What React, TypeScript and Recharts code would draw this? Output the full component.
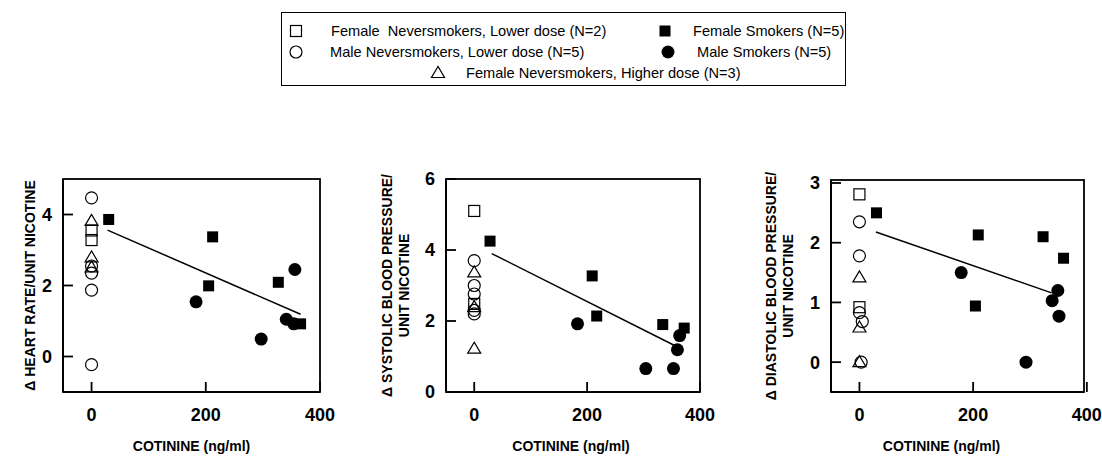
import { Label, ReferenceArea, ReferenceLine, Scatter, ScatterChart, XAxis, YAxis } from "recharts";

type Pt = { x: number; y: number };

const FONT = "'Liberation Sans', Arial, sans-serif";

const xTicks = [0, 200, 400];

// heart rate panel
const hrFemaleNeverLow: Pt[] = [{ x: 0, y: 3.55 }, { x: 0, y: 3.28 }];
const hrMaleNeverLow: Pt[] = [{ x: 0, y: 4.47 }, { x: 0, y: 2.55 }, { x: 0, y: 2.35 }, { x: 0, y: 1.87 }, { x: 0, y: -0.23 }];
const hrFemaleNeverHigh: Pt[] = [{ x: 0, y: 3.82 }, { x: 0, y: 2.79 }, { x: 0, y: 2.51 }];
const hrFemaleSmokers: Pt[] = [{ x: 30, y: 3.86 }, { x: 212, y: 3.37 }, { x: 205, y: 1.99 }, { x: 327, y: 2.09 }, { x: 366, y: 0.92 }];
const hrMaleSmokers: Pt[] = [{ x: 183, y: 1.54 }, { x: 297, y: 0.49 }, { x: 356, y: 2.45 }, { x: 341, y: 1.05 }, { x: 354, y: 0.92 }];
const hrFit: Pt[] = [{ x: 28, y: 3.56 }, { x: 366, y: 1.19 }];

// systolic panel
const sbpFemaleNeverLow: Pt[] = [{ x: 0, y: 5.1 }, { x: 0, y: 2.48 }];
const sbpMaleNeverLow: Pt[] = [{ x: 0, y: 3.7 }, { x: 0, y: 3.0 }, { x: 0, y: 2.76 }, { x: 0, y: 2.3 }, { x: 0, y: 2.2 }];
const sbpFemaleNeverHigh: Pt[] = [{ x: 0, y: 3.37 }, { x: 0, y: 2.39 }, { x: 0, y: 1.22 }];
const sbpFemaleSmokers: Pt[] = [{ x: 28, y: 4.25 }, { x: 209, y: 3.27 }, { x: 217, y: 2.14 }, { x: 334, y: 1.9 }, { x: 372, y: 1.8 }];
const sbpMaleSmokers: Pt[] = [{ x: 183, y: 1.92 }, { x: 304, y: 0.66 }, { x: 353, y: 0.66 }, { x: 360, y: 1.19 }, { x: 364, y: 1.59 }];
const sbpFit: Pt[] = [{ x: 31, y: 3.9 }, { x: 355, y: 1.31 }];

// diastolic panel
const dbpFemaleNeverLow: Pt[] = [{ x: 0, y: 2.81 }, { x: 0, y: 0.92 }];
const dbpMaleNeverLow: Pt[] = [{ x: 0, y: 2.35 }, { x: 0, y: 1.78 }, { x: 0, y: 0.83 }, { x: 5, y: 0.68 }, { x: 3, y: 0.0 }];
const dbpFemaleNeverHigh: Pt[] = [{ x: 0, y: 1.42 }, { x: 0, y: 0.58 }, { x: 0, y: 0.0 }];
const dbpFemaleSmokers: Pt[] = [{ x: 30, y: 2.5 }, { x: 209, y: 2.13 }, { x: 204, y: 0.94 }, { x: 323, y: 2.1 }, { x: 359, y: 1.74 }];
const dbpMaleSmokers: Pt[] = [{ x: 179, y: 1.5 }, { x: 293, y: 0.0 }, { x: 339, y: 1.03 }, { x: 349, y: 1.2 }, { x: 351, y: 0.77 }];
const dbpFit: Pt[] = [{ x: 29, y: 2.18 }, { x: 338, y: 1.16 }];

type Kind = "openSquare" | "openCircle" | "openTriangle" | "filledSquare" | "filledCircle";

const groupKinds: Kind[] = ["openSquare", "openCircle", "openTriangle", "filledSquare", "filledCircle"];

const tickFont = { fontSize: 18, fontWeight: 700, fill: "#000", fontFamily: FONT };

function Mark({ kind, cx, cy }: { kind: Kind; cx: number; cy: number }) {
  const line = { fill: "none", stroke: "#000", strokeWidth: 1.2 };
  switch (kind) {
    case "openSquare":
      return <rect x={cx - 5.5} y={cy - 5.5} width={11} height={11} {...line} />;
    case "openCircle":
      return <circle cx={cx} cy={cy} r={6} {...line} />;
    case "openTriangle":
      return <polygon points={`${cx},${cy - 6.5} ${cx - 6.5},${cy + 4.5} ${cx + 6.5},${cy + 4.5}`} {...line} />;
    case "filledSquare":
      return <rect x={cx - 5.5} y={cy - 5.5} width={11} height={11} fill="#000" />;
    default:
      return <circle cx={cx} cy={cy} r={6.5} fill="#000" />;
  }
}

// tick label plus a short tick pointing into the plot
const X_TICK_GAP = 16;
const Y_TICK_GAP = 11;

function XTick(tp: any) {
  const x = Number(tp.x);
  const y = Number(tp.y);
  const base = y - X_TICK_GAP;
  return (
    <g>
      <rect x={x - 0.9} y={base - 10} width={1.8} height={10} fill="#000" />
      <text x={x} y={y} dy="0.71em" textAnchor="middle" {...tickFont}>
        {tp.payload.value}
      </text>
    </g>
  );
}

function YTick(tp: any) {
  const x = Number(tp.x);
  const y = Number(tp.y);
  const base = x + Y_TICK_GAP;
  return (
    <g>
      <rect x={base} y={y - 0.9} width={10} height={1.8} fill="#000" />
      <text x={x} y={y} dy="0.36em" textAnchor="end" {...tickFont}>
        {tp.payload.value}
      </text>
    </g>
  );
}

function Frame(fp: any) {
  return <rect x={fp.x} y={fp.y} width={fp.width} height={fp.height} fill="none" stroke="#000" strokeWidth={1.8} />;
}

type PanelProps = {
  left: number;
  width: number;
  yAxisWidth: number;
  marginRight: number;
  marginTop: number;
  xMax: number;
  yDomain: [number, number];
  yTicks: number[];
  titleLines: string[];
  titleX: number;
  xTitleDx: number;
  series: Pt[][];
  fit: Pt[];
};

function Panel(p: PanelProps) {
  const [yMin, yMax] = p.yDomain;
  const axisLine = { stroke: "#000", strokeWidth: 1.8 };
  return (
    <div style={{ position: "absolute", left: p.left, top: 150 }}>
      <ScatterChart width={p.width} height={306} margin={{ top: p.marginTop, right: p.marginRight, bottom: 34, left: 0 }}>
        <XAxis
          type="number"
          dataKey="x"
          domain={[-50, p.xMax]}
          ticks={xTicks}
          interval={0}
          height={30}
          tickSize={0}
          tickMargin={X_TICK_GAP}
          tick={<XTick />}
          axisLine={axisLine}
          tickLine={false}
        >
          <Label
            content={(lp: any) => {
              const vb = lp.viewBox;
              return (
                <text
                  x={vb.x + vb.width / 2 + p.xTitleDx}
                  y={vb.y + 54}
                  textAnchor="middle"
                  dominantBaseline="central"
                  fontFamily={FONT}
                  fontWeight={700}
                  fontSize={14}
                >
                  COTININE (ng/ml)
                </text>
              );
            }}
          />
        </XAxis>
        <YAxis
          type="number"
          dataKey="y"
          domain={p.yDomain}
          ticks={p.yTicks}
          interval={0}
          width={p.yAxisWidth}
          tickSize={0}
          tickMargin={Y_TICK_GAP}
          tick={<YTick />}
          axisLine={axisLine}
          tickLine={false}
        >
          <Label
            content={(lp: any) => {
              const vb = lp.viewBox;
              const cy = vb.y + vb.height / 2;
              const cx = p.titleX;
              const lh = 17;
              return (
                <text
                  transform={`rotate(-90 ${cx} ${cy})`}
                  x={cx}
                  y={cy}
                  textAnchor="middle"
                  dominantBaseline="central"
                  fontFamily={FONT}
                  fontWeight={700}
                  fontSize={14}
                >
                  {p.titleLines.map((t, i) => (
                    <tspan key={i} x={cx} dy={i === 0 ? (-(p.titleLines.length - 1) * lh) / 2 : lh}>
                      {t}
                    </tspan>
                  ))}
                </text>
              );
            }}
          />
        </YAxis>
        <ReferenceArea x1={-50} x2={p.xMax} y1={yMin} y2={yMax} ifOverflow="visible" shape={<Frame />} />
        <ReferenceLine segment={[p.fit[0], p.fit[1]]} stroke="#000" strokeWidth={1.5} />
        {p.series.map((data, i) => (
          <Scatter
            key={i}
            data={data}
            isAnimationActive={false}
            shape={(sp: any) => <Mark kind={groupKinds[i]} cx={sp.cx} cy={sp.cy} />}
          />
        ))}
      </ScatterChart>
    </div>
  );
}

function LegendSymbol({ kind, x, y }: { kind: Kind; x: number; y: number }) {
  return (
    <svg width={16} height={16} style={{ position: "absolute", left: x - 8, top: y - 8 }}>
      <Mark kind={kind} cx={8} cy={8} />
    </svg>
  );
}

function LegendText({ text, x, y }: { text: string; x: number; y: number }) {
  return (
    <div
      style={{
        position: "absolute",
        left: x,
        top: y - 9,
        height: 18,
        lineHeight: "18px",
        fontSize: 14.6,
        fontFamily: FONT,
        whiteSpace: "pre",
        color: "#000",
      }}
    >
      {text}
    </div>
  );
}

export default function App() {
  return (
    <div style={{ position: "absolute", left: 0, top: 0, width: 1102, height: 456, background: "#fff", overflow: "hidden" }}>
      <div
        style={{
          position: "absolute",
          left: 281,
          top: 12,
          width: 563,
          height: 72,
          border: "1.3px solid #000",
        }}
      />
      <LegendSymbol kind="openSquare" x={296} y={31} />
      <LegendText text="Female  Neversmokers, Lower dose (N=2)" x={331} y={31} />
      <LegendSymbol kind="filledSquare" x={665} y={31} />
      <LegendText text="Female Smokers (N=5)" x={693} y={31} />
      <LegendSymbol kind="openCircle" x={296} y={52} />
      <LegendText text="Male Neversmokers, Lower dose (N=5)" x={330} y={52} />
      <LegendSymbol kind="filledCircle" x={668} y={52} />
      <LegendText text="Male Smokers (N=5)" x={697} y={52} />
      <LegendSymbol kind="openTriangle" x={438} y={73} />
      <LegendText text="Female Neversmokers, Higher dose (N=3)" x={466} y={73} />

      <Panel
        left={0}
        width={340}
        yAxisWidth={63}
        marginRight={20}
        marginTop={29}
        xMax={400}
        yDomain={[-1, 5]}
        yTicks={[0, 2, 4]}
        titleLines={["Δ HEART RATE/UNIT NICOTINE"]}
        titleX={30}
        xTitleDx={0}
        series={[hrFemaleNeverLow, hrMaleNeverLow, hrFemaleNeverHigh, hrFemaleSmokers, hrMaleSmokers]}
        fit={hrFit}
      />
      <Panel
        left={370}
        width={350}
        yAxisWidth={76}
        marginRight={20}
        marginTop={29}
        xMax={400}
        yDomain={[0, 6]}
        yTicks={[0, 2, 4, 6]}
        titleLines={["Δ SYSTOLIC BLOOD PRESSURE/", "UNIT NICOTINE"]}
        titleX={25.5}
        xTitleDx={-2}
        series={[sbpFemaleNeverLow, sbpMaleNeverLow, sbpFemaleNeverHigh, sbpFemaleSmokers, sbpMaleSmokers]}
        fit={sbpFit}
      />
      <Panel
        left={740}
        width={362}
        yAxisWidth={91}
        marginRight={18}
        marginTop={30}
        xMax={395}
        yDomain={[-0.5, 3.05]}
        yTicks={[0, 1, 2, 3]}
        titleLines={["Δ DIASTOLIC BLOOD PRESSURE/", "UNIT NICOTINE"]}
        titleX={39.5}
        xTitleDx={-16}
        series={[dbpFemaleNeverLow, dbpMaleNeverLow, dbpFemaleNeverHigh, dbpFemaleSmokers, dbpMaleSmokers]}
        fit={dbpFit}
      />
    </div>
  );
}
